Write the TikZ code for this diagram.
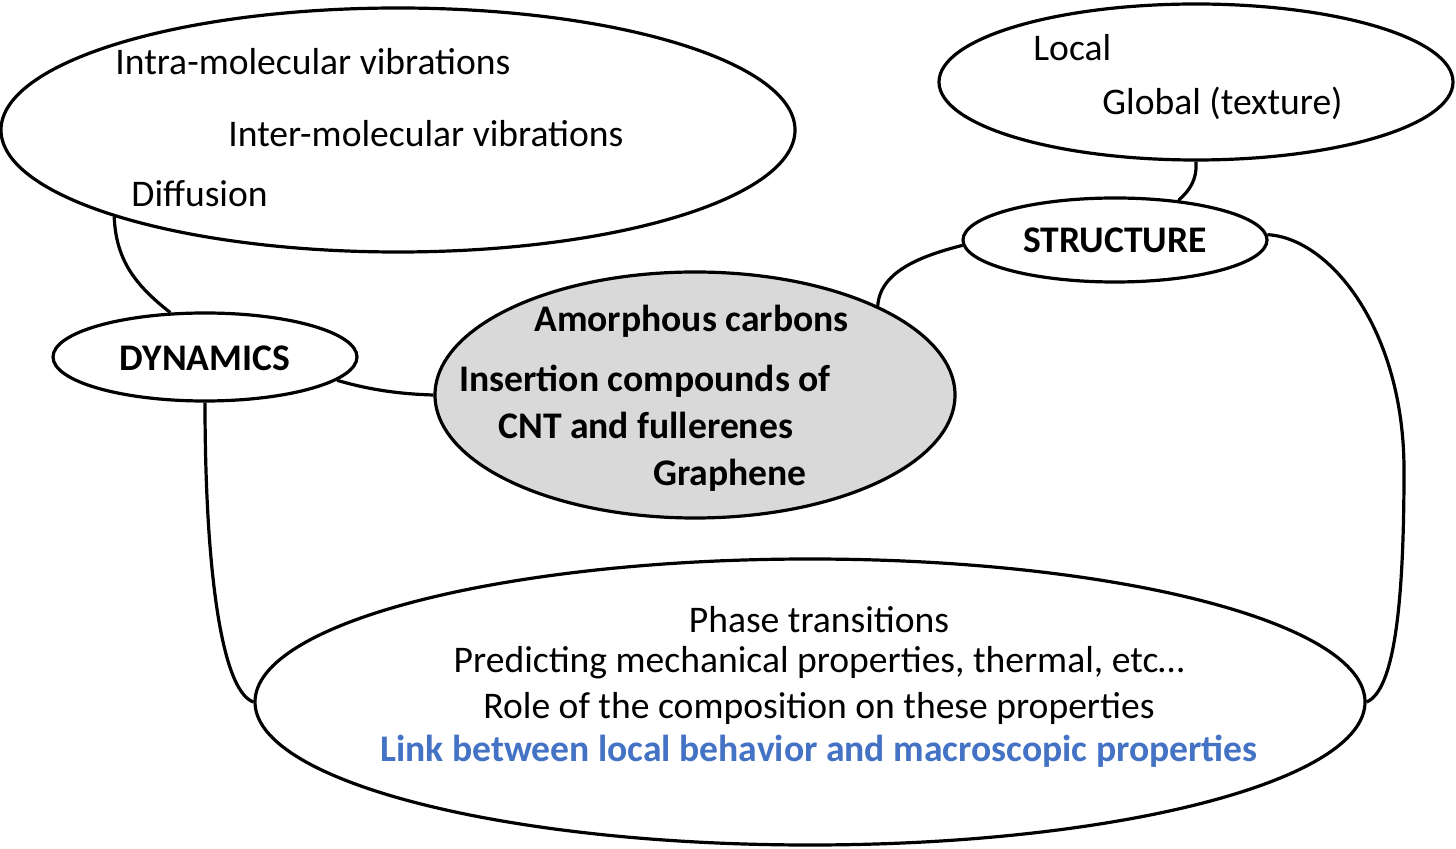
\documentclass[tikz,border=0pt]{standalone}
\usepackage{fontspec}
\setmainfont{Carlito}
\usetikzlibrary{shapes.geometric}
\definecolor{fillgray}{HTML}{D9D9D9}
\definecolor{linkblue}{HTML}{4472C4}
\begin{document}
\begin{tikzpicture}[x=0.5pt,y=-0.5pt,
  bub/.style={draw=black,line width=1.6pt,ellipse,inner sep=0pt,fill=white},
  conn/.style={draw=black,line width=1.6pt},
  txt/.style={font=\fontsize{18.8}{22}\selectfont,inner sep=0pt,anchor=west},
  btxt/.style={font=\fontsize{18.8}{22}\selectfont\bfseries,inner sep=0pt,anchor=west}]
\useasboundingbox (0,0) rectangle (1456,849);
% ellipses
\node[bub,minimum width=397pt,minimum height=122pt] (tl) at (398,130) {};
\node[bub,minimum width=257pt,minimum height=78pt] (tr) at (1196,82) {};
\node[bub,minimum width=152pt,minimum height=42pt] (str) at (1115,240) {};
\node[bub,minimum width=152pt,minimum height=44pt] (dyn) at (205,357) {};
\node[bub,fill=fillgray,minimum width=260pt,minimum height=123pt] (cen) at (695,395) {};
\node[bub,minimum width=555pt,minimum height=143pt] (bot) at (810,702) {};
% connectors
\draw[conn] (tl.197.5) .. controls (116,260) and (135,285) .. (dyn.128);
\draw[conn] (dyn.-10) .. controls (370,390) and (400,394) .. (cen.180);
\draw[conn] (cen.26) .. controls (880,270) and (925,255) .. (str.182);
\draw[conn] (tr.-90) .. controls (1197,180) and (1190,190) .. (str.32);
\draw[conn] (str.2) .. controls (1330,238) and (1404,330) .. (1404,470)
   .. controls (1404,600) and (1395,690) .. (bot.0);
\draw[conn] (dyn.-90) .. controls (205,560) and (220,690) .. (bot.180);
% texts
\node[txt] (t1) at (115,62) {Intra-molecular vibrations};
\node[txt] (t2) at (228,134) {Inter-molecular vibrations};
\node[txt] (t3) at (131,194) {Diffusion};
\node[txt] (t4) at (1033,48) {Local};
\node[txt] (t5) at (1102,103) {Global (texture)};
\node[btxt,anchor=center] (t6) at (1115,240) {STRUCTURE};
\node[btxt,anchor=center] (t7) at (205,358) {DYNAMICS};
\node[btxt] (t8) at (534,321) {Amorphous carbons};
\node[btxt] (t9) at (459,381) {Insertion compounds of};
\node[btxt] (t10) at (498,425) {CNT and fullerenes};
\node[btxt] (t11) at (653,475) {Graphene};
\node[txt,anchor=center] (t12) at (819,620) {Phase transitions};
\node[txt,anchor=center] (t13) at (819,663) {Predicting mechanical properties, thermal, etc…};
\node[txt,anchor=center] (t14) at (819,708) {Role of the composition on these properties};
\node[btxt,anchor=center,text=linkblue] (t15) at (819,751) {Link between local behavior and macroscopic properties};
\end{tikzpicture}
\end{document}
